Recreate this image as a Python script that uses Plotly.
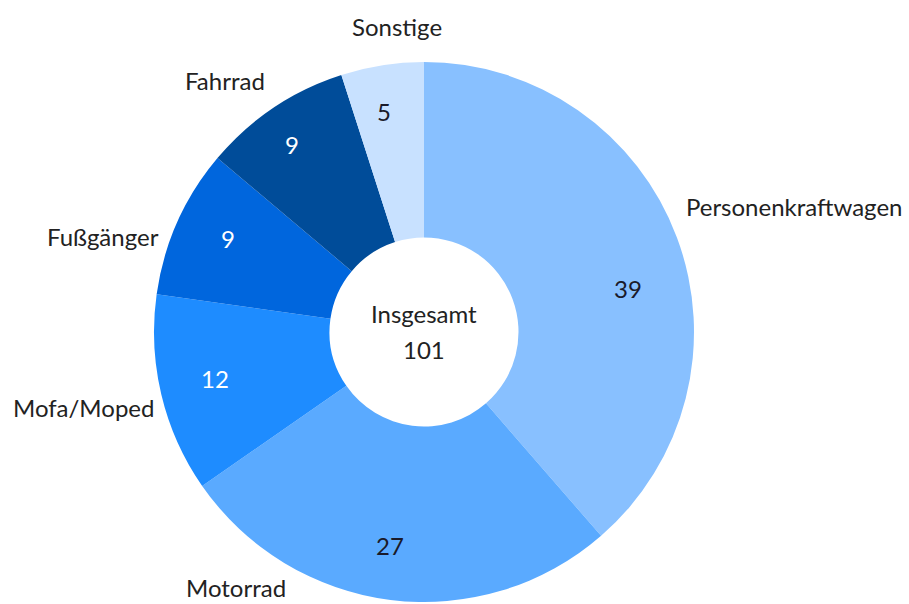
import plotly.graph_objects as go

categories = ["Personenkraftwagen", "Motorrad", "Mofa/Moped", "Fußgänger", "Fahrrad", "Sonstige"]
values = [39, 27, 12, 9, 9, 5]
colors = ["#88C0FF", "#5AAAFF", "#1E8CFF", "#0066DD", "#004C99", "#C8E1FF"]
text_colors = ["#1a1a2a", "#1a1a2a", "#ffffff", "#ffffff", "#ffffff", "#1a1a2a"]
center_title = "Insgesamt"
total = sum(values)

W, H = 909, 604
FONT = "Lato, 'Noto Sans', sans-serif"
FS = 24

def px(x, y):
    return x / W, 1 - y / H

fig = go.Figure(go.Pie(
    labels=categories, values=values, sort=False, direction="clockwise", rotation=0,
    hole=0.35, marker=dict(colors=colors, line=dict(width=0)),
    textinfo="none",
    domain=dict(x=[154 / W, 694 / W], y=[1 - 602 / H, 1 - 62 / H]),
    showlegend=False, hoverinfo="label+value",
))

# layout: pixel positions of category labels and of value labels
label_pos = {
    "Personenkraftwagen": (794, 206),
    "Motorrad": (236, 587),
    "Mofa/Moped": (83, 407),
    "Fußgänger": (103, 236),
    "Fahrrad": (225, 80),
    "Sonstige": (397, 27),
}
value_pos = {
    "Personenkraftwagen": (628, 288),
    "Motorrad": (390, 545),
    "Mofa/Moped": (215, 378),
    "Fußgänger": (228, 238),
    "Fahrrad": (292, 144),
    "Sonstige": (384, 111),
}
anns = []
for c, v, tc in zip(categories, values, text_colors):
    x, y = px(*label_pos[c])
    anns.append(dict(x=x, y=y, xref="paper", yref="paper", text=c, showarrow=False,
                     font=dict(family=FONT, size=FS, color="#222222"), xanchor="center", yanchor="middle"))
    x, y = px(*value_pos[c])
    anns.append(dict(x=x, y=y, xref="paper", yref="paper", text=str(v), showarrow=False,
                     font=dict(family=FONT, size=FS, color=tc), xanchor="center", yanchor="middle"))
for txt, yy in [(center_title, 313), (str(total), 349)]:
    x, y = px(424, yy)
    anns.append(dict(x=x, y=y, xref="paper", yref="paper", text=txt, showarrow=False,
                     font=dict(family=FONT, size=FS, color="#222222"), xanchor="center", yanchor="middle"))

fig.update_layout(width=W, height=H, margin=dict(l=0, r=0, t=0, b=0),
                  paper_bgcolor="white", plot_bgcolor="white", annotations=anns)
fig.write_html("out.html", config={"displayModeBar": False},
               post_script="document.body.style.margin='0px';")
